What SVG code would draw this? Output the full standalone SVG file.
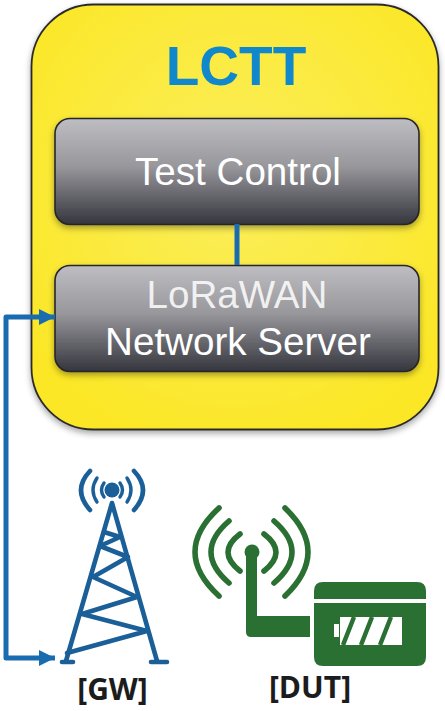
<svg xmlns="http://www.w3.org/2000/svg" width="445" height="711" viewBox="0 0 445 711">
<style>
.sans{font-family:"Liberation Sans",Arial,sans-serif}
.box{fill:url(#gray);stroke:#26262c;stroke-width:1.6;filter:url(#shadow)}
.boxtext{fill:#fff;font-size:38.600px;text-anchor:middle}
.label{fill:#1c1c1c;font-family:"Open Sans","Liberation Sans",sans-serif;font-weight:700;font-size:30px;text-anchor:middle}
.blue{fill:none;stroke:#1a6cb0;stroke-width:5;stroke-linecap:butt;stroke-linejoin:round}
.tw{fill:none;stroke:#1b5f99;stroke-width:4.600;stroke-linecap:round;stroke-linejoin:round}
.tw2{fill:none;stroke:#1b5f99;stroke-width:3.400;stroke-linecap:round}
.gw{fill:none;stroke:#2a7033;stroke-width:5.600;stroke-linecap:round}
</style>
<defs>
<linearGradient id="gray" x1="0" y1="0" x2="0" y2="1">
<stop offset="0" stop-color="#bebec2"/><stop offset="0.45" stop-color="#97979c"/><stop offset="1" stop-color="#35353d"/>
</linearGradient>
<radialGradient id="yellow" cx="0.5" cy="0.42" r="0.65">
<stop offset="0" stop-color="#fbee5c"/><stop offset="1" stop-color="#fbe725"/>
</radialGradient>
<filter id="shadow" x="-10%" y="-10%" width="120%" height="125%">
<feDropShadow dx="0" dy="3" stdDeviation="3" flood-color="#000" flood-opacity="0.35"/>
</filter>
<marker id="arrow" markerUnits="userSpaceOnUse" markerWidth="18" markerHeight="18" refX="16" refY="8" orient="auto-start-reverse">
<path d="M0,0L16,8L0,16Z" fill="#1a6cb0"/>
</marker>
</defs>
<rect width="445" height="711" fill="#fff"/>
<g id="lctt">
<rect x="31.500" y="4.500" width="407" height="425" rx="62" fill="url(#yellow)" stroke="#2c2c2c" stroke-width="1.800" filter="url(#shadow)"/>
<text class="sans" x="236" y="85" font-size="55" font-weight="700" fill="#1288cc" text-anchor="middle">LCTT</text>
</g>
<g id="test-control">
<rect class="box" x="55" y="118.500" width="364" height="106" rx="15"/>
<text class="sans boxtext" x="238" y="185">Test Control</text>
</g>
<g id="network-server">
<rect class="box" x="55" y="265.500" width="364" height="106" rx="15"/>
<text class="sans boxtext" x="237" y="308" fill-opacity="0.85">LoRaWAN</text>
<text class="sans boxtext" x="238" y="355">Network Server</text>
</g>
<g id="connectors">
<path class="blue" d="M237,224V265"/>
<path class="blue" d="M55,317H6V658H55" marker-start="url(#arrow)" marker-end="url(#arrow)"/>
</g>
<g id="gw">
<path class="tw" d="M112,503L66,661M112,503L157,661"/>
<path class="tw" d="M67,653L147,631L82,614L137,597L93,577L128,557L100,546L120,537L104,532"/>
<path class="tw" stroke-width="3" d="M62,662H73M151,662H167"/>
<circle cx="112" cy="490" r="7.500" fill="#1b5f99"/>
<path class="tw2" d="M104,483Q99,490 104,497M120,483Q125,490 120,497"/>
<path class="tw2" d="M97,478Q89,490 97,502M127,478Q135,490 127,502"/>
<path class="tw" stroke-width="5.500" d="M90,471Q72,490 90,510M134,471Q152,490 134,510"/>
<text class="label" x="112.500" y="700">[GW]</text>
</g>
<g id="dut">
<path class="gw" d="M219,508Q171,552 219,596M229,521Q193,552 229,583M240,534Q216,552 240,571"/>
<path class="gw" d="M285,508Q331,552 285,596M274,521Q310,552 274,583M264,534Q288,552 264,571"/>
<circle cx="252" cy="552" r="7.500" fill="#2a7033"/>
<path d="M246,552H257V616H310V637H251Q246,637 246,632Z" fill="#2a7033"/>
<path d="M314,599V591Q314,582 323,582H417Q426,582 426,591V599Z" fill="#2a7033"/>
<path d="M314,603H426V657Q426,666 417,666H323Q314,666 314,657Z" fill="#2a7033"/>
<rect x="334" y="624" width="5" height="13" fill="#fff"/>
<rect x="340" y="617" width="62" height="28" fill="#fff"/>
<path d="M354,617L343,645M372,617L361,645M391,617L380,645" stroke="#2a7033" stroke-width="4.500" fill="none"/>
<text class="label" x="310" y="698">[DUT]</text>
</g>
</svg>
